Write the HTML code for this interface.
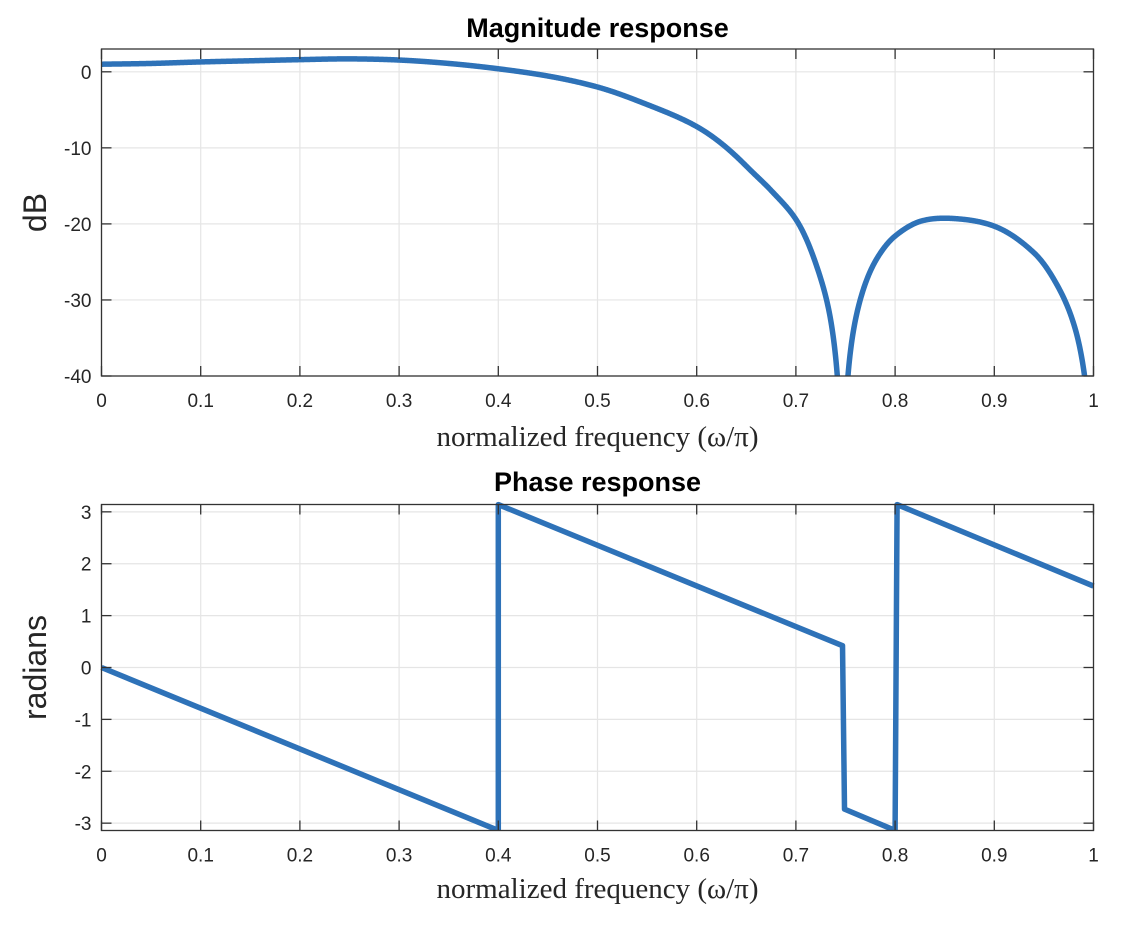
<!DOCTYPE html>
<html><head><meta charset="utf-8"><style>
html,body{margin:0;padding:0;background:#fff;width:1126px;height:940px;overflow:hidden}
svg{display:block}
.tk{font-family:"Liberation Sans",sans-serif;font-size:19px;fill:#262626}
.ttl{font-family:"Liberation Sans",sans-serif;font-size:27px;font-weight:bold;fill:#000}
.xl{font-family:"Liberation Serif",serif;font-size:29px;fill:#262626}
.yl{font-family:"Liberation Sans",sans-serif;font-size:32px;fill:#262626}
</style></head><body>
<svg id="chart" width="1126" height="940"></svg>
<script>
const xTicks=[0,0.1,0.2,0.3,0.4,0.5,0.6,0.7,0.8,0.9,1];
const xTickLabels=["0","0.1","0.2","0.3","0.4","0.5","0.6","0.7","0.8","0.9","1"];
const magTicks=[0,-10,-20,-30,-40];
const magTickLabels=["0","-10","-20","-30","-40"];
const phaseTicks=[3,2,1,0,-1,-2,-3];
const phaseTickLabels=["3","2","1","0","-1","-2","-3"];
const magFreq=[0,0.05,0.1,0.15,0.2,0.25,0.3,0.35,0.4,0.452,0.5,0.55,0.6,0.65,0.675,0.7,0.72,0.735,0.763,0.781,0.8,0.827,0.86,0.9,0.94,0.964,0.982,0.991];
const magDb=[1.0,1.1,1.3,1.45,1.6,1.7,1.55,1.1,0.4,-0.6,-2.0,-4.3,-7.2,-12.4,-15.6,-19.4,-25.2,-32.6,-30.9,-24.7,-21.6,-19.6,-19.3,-20.3,-23.8,-28.2,-34,-40];
const magNulls=[0.747,1.0];
const phaseFreq=[0,0.4,0.4,0.747,0.749,0.8,0.802,1];
const phaseRad=[0,-3.14,3.14,0.42,-2.73,-3.14,3.14,1.57];
const NS="http://www.w3.org/2000/svg";
const svg=document.getElementById('chart');
function mk(t,a,p){const e=document.createElementNS(NS,t);for(const k in a)e.setAttribute(k,a[k]);(p||svg).appendChild(e);return e;}
const L=101.5,R=1093.5;
function sx(v){return L+(R-L)*v;}
// build signed amplitude knots from dB readings + null positions, interpolate, convert back to dB
function magCurve(){
  const knots=[];
  magFreq.forEach((f,i)=>{let s=1;magNulls.forEach(n=>{if(f>n)s=-s;});knots.push([f,s*Math.pow(10,magDb[i]/20)]);});
  magNulls.forEach(n=>knots.push([n,0]));
  knots.sort((a,b)=>a[0]-b[0]);
  const n=knots.length,m=[];
  for(let i=0;i<n;i++){
    if(i==0)m.push((knots[1][1]-knots[0][1])/(knots[1][0]-knots[0][0]));
    else if(i==n-1)m.push((knots[n-1][1]-knots[n-2][1])/(knots[n-1][0]-knots[n-2][0]));
    else m.push((knots[i+1][1]-knots[i-1][1])/(knots[i+1][0]-knots[i-1][0]));
  }
  const out=[];
  for(let k=0;k<=2000;k++){
    const x=k/2000;let i=0;while(i<n-2&&x>knots[i+1][0])i++;
    const x0=knots[i][0],x1=knots[i+1][0],h=x1-x0,t=Math.min(Math.max((x-x0)/h,0),1);
    const h00=2*t*t*t-3*t*t+1,h10=t*t*t-2*t*t+t,h01=-2*t*t*t+3*t*t,h11=t*t*t-t*t;
    const a=h00*knots[i][1]+h10*h*m[i]+h01*knots[i+1][1]+h11*h*m[i+1];
    out.push([x,20*Math.log10(Math.max(Math.abs(a),1e-4))]);
  }
  return out;
}
function drawAxes(name,top,bot,ymin,ymax,ticks,labels,pts0,title,ylabel,titleY,xlabY){
  const g=mk('g',{});
  
  
  const sy=v=>bot-(v-ymin)/(ymax-ymin)*(bot-top);
  xTicks.forEach(t=>{const l=mk('line',{x1:sx(t),x2:sx(t),y1:top,y2:bot,stroke:'#e5e5e5','stroke-width':1.2},g);});
  ticks.forEach(t=>{const l=mk('line',{x1:L,x2:R,y1:sy(t),y2:sy(t),stroke:'#e5e5e5','stroke-width':1.2},g);});
  let d='';pts0.forEach((p,i)=>{d+=(i?'L':'M')+sx(p[0]).toFixed(2)+','+sy(Math.max(p[1],ymin-10)).toFixed(2);});
  const cp=mk('clipPath',{id:'c'+name},g);mk('rect',{x:L-3,y:top-3,width:R-L+6,height:bot-top+3},cp);
  const p=mk('path',{d:d,fill:'none',stroke:'#2e72b8','stroke-width':5.5,'stroke-linejoin':'round','clip-path':'url(#c'+name+')'},g);
  
  
  const b=mk('rect',{x:L,y:top,width:R-L,height:bot-top,fill:'none',stroke:'#333','stroke-width':1.3},g);
  
  xTicks.forEach((t,i)=>{
    mk('line',{x1:sx(t),x2:sx(t),y1:bot,y2:bot-10,stroke:'#333','stroke-width':1.3},g);
    mk('line',{x1:sx(t),x2:sx(t),y1:top,y2:top+10,stroke:'#333','stroke-width':1.3},g);
    const tx=mk('text',{x:sx(t),y:bot+31,'text-anchor':'middle',class:'tk'},g);tx.textContent=xTickLabels[i];
    
  });
  ticks.forEach((t,i)=>{
    mk('line',{x1:L,x2:L+10,y1:sy(t),y2:sy(t),stroke:'#333','stroke-width':1.3},g);
    mk('line',{x1:R,x2:R-10,y1:sy(t),y2:sy(t),stroke:'#333','stroke-width':1.3},g);
    const tx=mk('text',{x:L-10,y:sy(t)+7,'text-anchor':'end',class:'tk'},g);tx.textContent=labels[i];
    
  });
  const tt=mk('text',{x:(L+R)/2,y:titleY,'text-anchor':'middle',class:'ttl'},g);tt.textContent=title;
  
  const xl=mk('text',{x:(L+R)/2,y:xlabY,'text-anchor':'middle',class:'xl'},g);xl.textContent='normalized frequency (ω/π)';
  
  const yc=(top+bot)/2;
  const yl=mk('text',{x:46,y:yc,'text-anchor':'middle',class:'yl',transform:'rotate(-90 46 '+yc+')'},g);yl.textContent=ylabel;
  
}
drawAxes('magnitude-plot',49,376,-40,3,magTicks,magTickLabels,magCurve(),'Magnitude response','dB',37,446);
drawAxes('phase-plot',504.5,830.5,-Math.PI,Math.PI,phaseTicks,phaseTickLabels,phaseFreq.map((f,i)=>[f,phaseRad[i]]),'Phase response','radians',491,898);
</script>
</body></html>
